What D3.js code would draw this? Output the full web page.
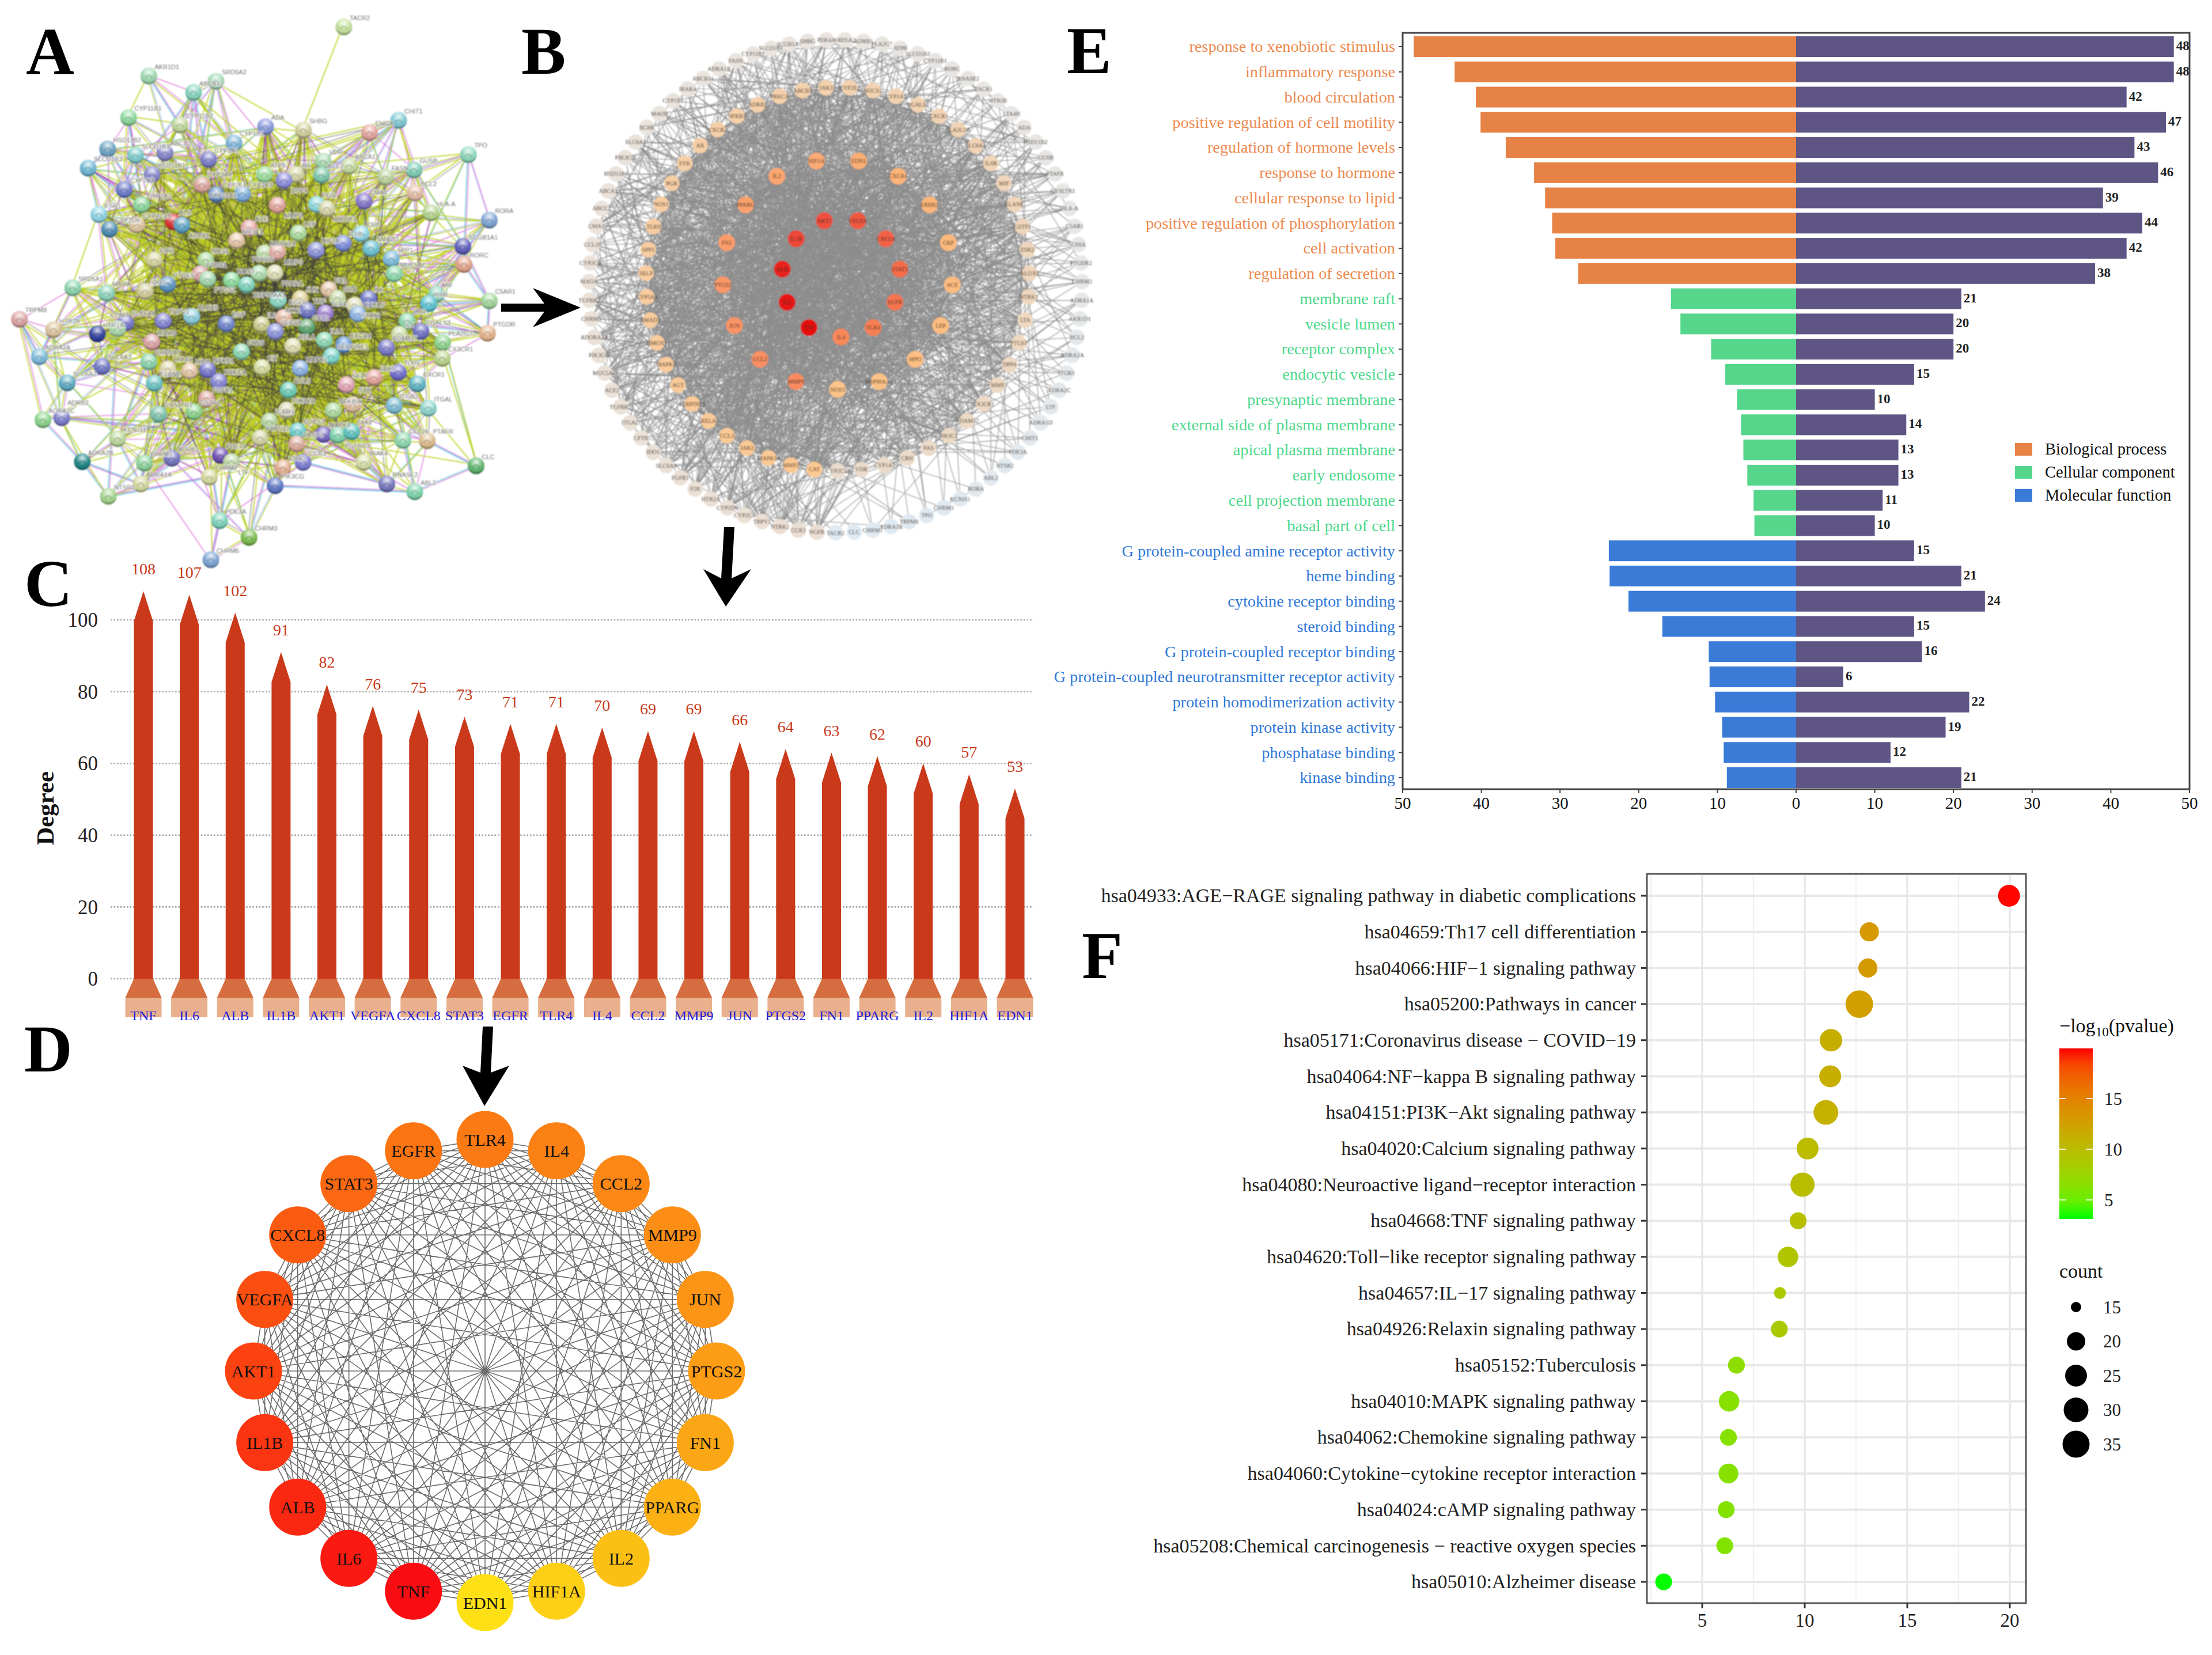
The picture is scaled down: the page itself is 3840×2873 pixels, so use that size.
<!DOCTYPE html>
<html><head><meta charset="utf-8">
<script src="https://cdnjs.cloudflare.com/ajax/libs/d3/7.8.5/d3.min.js"></script>
<style>html,body{margin:0;padding:0;background:#fff}svg{display:block}text{font-family:"Liberation Serif",serif}</style>
</head><body>
<svg id="c" width="3840" height="2873" viewBox="0 0 3840 2873"></svg>
<script>
// ---------- panel C / D data ----------
const hubGenes=["TNF","IL6","ALB","IL1B","AKT1","VEGFA","CXCL8","STAT3","EGFR","TLR4","IL4","CCL2","MMP9","JUN","PTGS2","FN1","PPARG","IL2","HIF1A","EDN1"];
const hubDegrees=[108,107,102,91,82,76,75,73,71,71,70,69,69,66,64,63,62,60,57,53];
const degreeTicks=[0,20,40,60,80,100];
// order of the circle in panel D, clockwise from the top
const circleOrder=["TLR4","IL4","CCL2","MMP9","JUN","PTGS2","FN1","PPARG","IL2","HIF1A","EDN1","TNF","IL6","ALB","IL1B","AKT1","VEGFA","CXCL8","STAT3","EGFR"];
// ---------- panel E data ----------
const goTerms=["response to xenobiotic stimulus","inflammatory response","blood circulation","positive regulation of cell motility","regulation of hormone levels","response to hormone","cellular response to lipid","positive regulation of phosphorylation","cell activation","regulation of secretion","membrane raft","vesicle lumen","receptor complex","endocytic vesicle","presynaptic membrane","external side of plasma membrane","apical plasma membrane","early endosome","cell projection membrane","basal part of cell","G protein-coupled amine receptor activity","heme binding","cytokine receptor binding","steroid binding","G protein-coupled receptor binding","G protein-coupled neurotransmitter receptor activity","protein homodimerization activity","protein kinase activity","phosphatase binding","kinase binding"];
const goEnrichment=[48.6,43.4,40.7,40.1,36.9,33.3,31.9,31.0,30.6,27.7,15.9,14.7,10.8,9.0,7.5,7.0,6.7,6.2,5.4,5.3,23.8,23.7,21.3,17.0,11.1,11.0,10.3,9.4,9.2,8.8];
const goCounts=[48,48,42,47,43,46,39,44,42,38,21,20,20,15,10,14,13,13,11,10,15,21,24,15,16,6,22,19,12,21];
const goAspects=["Biological process","Cellular component","Molecular function"];
const goAspectOfTerm=[0,0,0,0,0,0,0,0,0,0,1,1,1,1,1,1,1,1,1,1,2,2,2,2,2,2,2,2,2,2];
const goTicks=[-50,-40,-30,-20,-10,0,10,20,30,40,50];
// ---------- panel F data ----------
const pathways=["hsa04933:AGE\u2212RAGE signaling pathway in diabetic complications","hsa04659:Th17 cell differentiation","hsa04066:HIF\u22121 signaling pathway","hsa05200:Pathways in cancer","hsa05171:Coronavirus disease \u2212 COVID\u221219","hsa04064:NF\u2212kappa B signaling pathway","hsa04151:PI3K\u2212Akt signaling pathway","hsa04020:Calcium signaling pathway","hsa04080:Neuroactive ligand\u2212receptor interaction","hsa04668:TNF signaling pathway","hsa04620:Toll\u2212like receptor signaling pathway","hsa04657:IL\u221217 signaling pathway","hsa04926:Relaxin signaling pathway","hsa05152:Tuberculosis","hsa04010:MAPK signaling pathway","hsa04062:Chemokine signaling pathway","hsa04060:Cytokine\u2212cytokine receptor interaction","hsa04024:cAMP signaling pathway","hsa05208:Chemical carcinogenesis \u2212 reactive oxygen species","hsa05010:Alzheimer disease"];
const pathLogP=[19.96,13.15,13.08,12.66,11.28,11.24,11.03,10.14,9.89,9.68,9.18,8.79,8.76,6.67,6.31,6.28,6.28,6.17,6.1,3.12];
const pathCounts=[25,21,21,36,26,25,30,25,29,19,23,16,19,19,23,19,22,19,19,19];
const sizeLegend=[15,20,25,30,35];
const colorTicks=[5,10,15];
const pathTicks=[5,10,15,20];
// ---------- panel B data (concentric rings, each clockwise in degree order) ----------
const ringInner=["TNF","IL6","ALB","IL1B","AKT1","VEGFA","CXCL8","STAT3","EGFR","TLR4","IL4"];
const ringSecond=["MMP9","CCL2","JUN","PTGS2","FN1","PPARG","IL2","HIF1A","EDN1","CXCR4","ERBB2","CRP","ACE","LEP","MPO","HSP90AA1","NOS3"];
const ringThird=["CAT","MMP2","MAPK14","JAK2","CCL3","RELA","SERPINE1","AGT","MAPK3","HMOX1","SMAD3","CYP3A4","SELP","SPP1","TLR9","NOS1","PGR","SYK","AR","CXCR2","NFKB1","ADRB2","PRKCA","ABCB1","JAK3","CYP2E1","SOCS1","CYP1A1","LGALS3","CXCR1","PLA2G1B","SLC6A4","IL6R","MIF","ELANE","GSTP1","ESR2","ALOX5","NTRK1","LTA","PTGS1","DPP4","MME","CX3CR1","ADAM17","NR3C2","FAS","CRH","CYP1A2","VDR","CYP2C19"];
const ringOuter=["NGFR","CCR3","NTRK2","TRPV1","CYP2C9","CYP2D6","HTR2A","F2R","FGFR1","SLC6A3","IDO1","CFTR","ITGAL","TGFBR1","ACE2","MUC5AC","PIK3CG","ADORA2A","CHRM5","TGFBR2","MAOA","CYP2C8","CCL26","CMA1","ABCC2","ABCA1","HSD11B1","PIK3CD","SLC6A2","BCHE","MAOB","CYP1B1","IRAK4","ABCB11","ADRA1B","FASN","CYP11B2","SLCO1B1","SCGB1A1","SHBG","PDE4A","SRD5A2","ADRB1","PLA2G7","ATP8","SLCO1B3","CYP11B1","RORC","RNASE2","TACR1","HTR1B","LTA4H","ADA","HSD11B2","GUSB","PTAFR","CYSLTR1","HLA-A","C5AR1","CHIA","PTGDR2","CHRM2","ADRA1A","AKR1D1","BCL2","ADRA2A","ITGB3","ADRA2C","LTF","ADRA1D","CHIT1","PDE3A","NTSR2","ABL2","RORA","KCNJ11","CHRM3","TPO","TRPM8","ADRA2B","CHRM1","CLC","TACR2"];
// ---------- panel A data: STRING node label, layout position, bead hue ----------
const stringNames=["TACR2","AKR1D1","SRD5A2","ABCB11","CYP11B1","CYP11B2","ADA","SHBG","CHIT1","CHGA","CYP1B1","HSD11B2","SLCO1B1","ABCC2","VDR","ABCA1","TPO","CYP1A1","SLCO1B3","ATP8","AR","ACE2","FASN","GUSB","HSD11B1","CYP2C8","CYP2C9","CYP3A4","CYP2E1","DPP4","CYP1A2","BCL2","CMA1","MMP2","PGR","HMOX1","HLA-A","RORA","ESR1","CYP19A1","CYP2D6","CYP2C19","ALB","ABCB1","ACE","LEP","CRP","SMAD3","NR3C1","MAPK14","MMP9","HIF1A","IL1B","SPP1","SCGB1A1","RORC","MUC5AC","CRH","NOS1","PTGS1","PTGS2","NOS2","HSP90AA1","PPARG","PPARA","FN1","SRC","MIF","IL6R","C5AR1","IL6","AKT1","JUN","TNF","TLR4","STAT3","CXCL8","IL8R","LGALS3","PTGDR","SRD5A1","MAOA","IDO1","PTGES","ALOX5","EGF","EGFR","IL2","VEGFA","CCL2","IL1A","CXCR4","RELA","IL4","TRPM8","HTR2B","HTR1A","SLC6A4","COMT","TRPV1","MAOB","ADRA2A","SLC6A3","CHRNA7","CTSS","ADAM17","PLA2G7","CX3CR1","SLC6A2","LTA4H","MPO","NFKB1","SERPINE1","MAPK1","KIT","TLR9","CXCR1","JAK3","SELP","PRKCA","ELANE","CCL3","FGFR1","CYSLTR1","GSTP1","ADRA2C","ADRB2","PIK3CD","NFKBIA","SYK","ITGB2","ITGAL","ICAM1","KCNJ11","PTPN11","SOCS1","MAPK8","TGFBR1","JAK2","CCL26","PTAFR","CASP3","ADRA2B","CHRM1","ADRB1","PDE4A","LTF","CCR3","CD40","IRAK4","CLC","ADRA1A","CHRM2","PIK3CG","RNASE2","ABL2","NTSR2","PDE3A","CHRM3","CHRM5"];
const stringX=[936,405,588,527,350,490,723,826,1085,1006,637,293,369,449,880,950,1275,568,240,720,805,875,1050,1127,414,338,660,549,589,773,385,1130,991,755,862,890,1173,1332,269,550,298,373,472,495,678,812,983,1010,644,720,755,860,934,1065,1260,1263,1073,420,560,545,565,630,671,705,748,895,919,1188,1167,1332,1003,757,817,837,885,965,974,1108,1146,1327,198,290,395,456,522,616,772,712,749,835,883,936,797,1087,53,146,265,342,320,444,413,107,278,405,657,1052,1205,1204,183,457,516,565,902,817,713,1084,1136,1018,943,595,420,785,562,432,528,117,168,780,907,960,1073,1166,733,320,708,810,880,920,957,1097,1163,808,224,393,468,600,630,825,770,990,1296,383,570,749,1053,1129,295,598,678,574];
const stringY=[77,218,233,265,337,358,363,373,345,380,410,427,445,438,462,476,443,457,482,500,500,502,508,487,500,543,556,527,557,517,587,553,577,588,586,598,610,631,615,530,657,645,636,645,653,668,670,712,690,725,722,717,697,742,706,758,785,745,746,785,800,803,816,783,782,830,855,843,870,862,856,860,856,890,897,875,900,920,950,955,825,840,835,815,907,928,910,930,950,937,975,988,992,958,915,945,957,925,942,920,980,1022,1050,1037,1008,996,982,1027,1097,1057,1063,1060,1020,1056,1053,1067,1100,1082,1103,1093,1098,1118,1143,1187,1180,1203,1197,1175,1177,1160,1162,1170,1207,1257,1255,1235,1245,1247,1237,1262,1263,1272,1323,1327,1313,1305,1323,1325,1340,1325,1335,1387,1367,1392,1387,1409,1422,1492,1540,1604];
const stringHues=["#c8e6a0","#a0dcb4","#a0dcb4","#88d8c0","#90dca0","#c4dca0","#8c9ce0","#d4d4a0","#80ccd8","#e8a8a0","#80b8dc","#70a8c8","#80d0d0","#8888d0","#a8dcb0","#c8dca0","#90dcc0","#8080d0","#70bcd8","#a0e0a0","#d8d8a8","#80ccb0","#c0d8a0","#80d0b8","#8888d0","#7080d0","#80b0e0","#90dc90","#6088c0","#9090e0","#90dca0","#e8c0a8","#8878d0","#e8a8a0","#90dce0","#d8d8a8","#b8d890","#80a8d8","#90d8e8","#e0a8a0","#5090b8","#e0c8a0","#e03030","#60a8c8","#e8a8a8","#b0e0a0","#90d8e8","#70c8d8","#e8c8a8","#c0e0a8","#e8b0a8","#9098e0","#8090e0","#80c0e0","#6060c0","#e8a890","#90dcb0","#d8d8a0","#b0e0a0","#e0a8a8","#a8dcb0","#90e0a0","#80d8c0","#b0e0b0","#e0e0b8","#e8c8a8","#c8dca8","#90d8c0","#60c8d8","#a8dca0","#7078d0","#90dcc8","#e0d090","#7078c8","#a080d8","#e0e0b8","#90b8e8","#90dcb0","#7070c8","#e8b890","#90d8b0","#90d8c0","#d8d0a0","#6098c8","#90d0e0","#7088d0","#e8b8a0","#d0d090","#9098e0","#60a870","#90dcb8","#6098d8","#e0e0b0","#d0e0a8","#e0a8a8","#e0c8a0","#3040a0","#7878d0","#b0dcb0","#8888d8","#e0a8a8","#80c0e0","#7078c8","#90d8b0","#90dcb8","#8080d0","#90d890","#c0d890","#60b0c8","#e0d8b0","#e8c8a8","#7878d0","#80d8d0","#90b8e8","#d8e0a0","#7070d0","#60b8c8","#e8a8a0","#e8a8b8","#8888d8","#70c8c8","#70d0b8","#e0a8a0","#80c8b0","#90d890","#90d890","#8080d0","#d8d8b0","#b0dca0","#e0c0a0","#80c0d8","#90d8d0","#b8d8a0","#c0dca0","#d8d8a8","#70d0d0","#7868c8","#80d8b0","#60c8c0","#90dcb0","#e0c090","#e0b0a0","#208888","#90d8a0","#7878c8","#7050b8","#c0d8a8","#8080d8","#e8b090","#d8e0a8","#60b870","#d8dca0","#d8dca0","#6078c8","#7878c0","#80d8b0","#a8d890","#80d8c0","#80c050","#80a8d8"];

const svg=d3.select("#c");
const defs=svg.append("defs");
defs.append("filter").attr("id","soft").attr("x","-5%").attr("y","-5%").attr("width","110%").attr("height","110%")
  .append("feGaussianBlur").attr("stdDeviation",0.8);
const gloss=defs.append("radialGradient").attr("id","gloss").attr("cx","50%").attr("cy","28%").attr("r","62%");
gloss.append("stop").attr("offset","0%").attr("stop-color","#fff").attr("stop-opacity",.85);
gloss.append("stop").attr("offset","50%").attr("stop-color","#fff").attr("stop-opacity",.2);
gloss.append("stop").attr("offset","88%").attr("stop-color","#000").attr("stop-opacity",.03);
gloss.append("stop").attr("offset","100%").attr("stop-color","#000").attr("stop-opacity",.32);
const frac=v=>v-Math.floor(v);

// panel letters
[["A",45,128],["B",905,128],["C",42,1052],["D",42,1860],["E",1852,127],["F",1878,1698]].forEach(([t,x,y])=>
  svg.append("text").attr("x",x).attr("y",y).attr("font-size",116).attr("font-weight","bold").attr("fill","#000").text(t));

// ===== Panel A : STRING network =====
(function(){
  const sx=d3.scaleLinear([0,1568],[0,1000]), sy=d3.scaleLinear([0,1568],[0,950]);
  const g=svg.append("g").attr("filter","url(#soft)");
  const nodes=stringNames.map((name,i)=>({name,i,x:sx(stringX[i]),y:sy(stringY[i]),hue:stringHues[i]}));
  const cx=d3.mean(nodes,d=>d.x), cy=d3.mean(nodes,d=>d.y), R=440;
  nodes.forEach(n=>{n.c=Math.max(0,1-Math.hypot(n.x-cx,n.y-cy)/R);});
  const tacr=stringNames.indexOf("TACR2");
  // The topology of this hairball cannot be read from the picture: links join near neighbours,
  // and central beads link to other central beads, by a fixed rule.
  const cum=d3.cumsum(nodes.map((n,i)=>i===tacr?0:Math.pow(n.c,1.6)+0.004));
  const tot=cum[cum.length-1];
  const links=[]; const seen=new Set();
  function add(a,b){ if(a===b) return; const key=a<b?a+"-"+b:b+"-"+a; if(seen.has(key)) return; seen.add(key); links.push([a,b]); }
  nodes.forEach(n=>{
    if(n.i===tacr) return;
    const near=nodes.filter(m=>m!==n&&m.i!==tacr).sort((p,q)=>Math.hypot(p.x-n.x,p.y-n.y)-Math.hypot(q.x-n.x,q.y-n.y));
    const k=n.c<0.1?3:5;
    near.slice(0,k).forEach(m=>add(n.i,m.i));
    near.slice(8,n.c<0.25?11:8).forEach((m,j)=>{ if((n.i+j)%2===0) add(n.i,m.i); });
    const long=Math.round(Math.pow(n.c,1.2)*42)+(n.c<0.12?1:0);
    for(let j=1;j<=long;j++){
      const u=frac((n.i+1)*0.7548776+j*0.5698403+(n.i+1)*j*0.6180339);
      add(n.i,d3.bisectLeft(cum,u*tot));
    }
  });
  add(tacr,stringNames.indexOf("SHBG"));
  // strand colours of the STRING evidence channels, bottom to top
  const strands=[["#c6d6ff",0,2.4],["#35c0d8",1,1.4],["#d65cd0",-1,1.3],["#bccf14",2,1.8],["#3d3d3d",-2,0.9]];
  const VIO=0,CYAN=1,MAG=2,OLIVE=3,DARK=4;
  const byColor=strands.map(()=>d3.path());
  links.forEach(([a,b],li)=>{
    const A=nodes[a],B=nodes[b];
    const L=Math.hypot(B.x-A.x,B.y-A.y)||1, nx=-(B.y-A.y)/L, ny=(B.x-A.x)/L;
    const central=Math.min(A.c,B.c)>0.22;
    const h=(li*7)%10;
    const use=(a===tacr||b===tacr)?[OLIVE]:central? [[OLIVE],[OLIVE,MAG],[OLIVE,DARK],[OLIVE],[MAG,OLIVE],[OLIVE,CYAN],[OLIVE],[DARK,OLIVE],[MAG,DARK],[OLIVE]][h]
      : [[OLIVE],[MAG,OLIVE],[VIO,MAG],[CYAN,OLIVE],[VIO,CYAN,MAG],[OLIVE,DARK],[OLIVE],[MAG],[VIO,OLIVE],[CYAN,MAG]][h];
    use.forEach(s=>{
      const off=strands[s][1]*1.1;
      byColor[s].moveTo(A.x+nx*off,A.y+ny*off); byColor[s].lineTo(B.x+nx*off,B.y+ny*off);
    });
  });
  g.selectAll("path.edge").data(strands).join("path").attr("class","edge")
    .attr("d",(d,i)=>byColor[i].toString()).attr("fill","none").attr("stroke",d=>d[0]).attr("stroke-width",d=>d[2]).attr("stroke-opacity",.92);
  const ng=g.selectAll("g.n").data(nodes).join("g").attr("class","n").attr("transform",d=>`translate(${d.x},${d.y})`);
  ng.append("circle").attr("r",14.5).attr("fill",d=>d.hue);
  ng.append("circle").attr("r",14.5).attr("fill","url(#gloss)");
  ng.append("path").attr("d",(d)=>{const p=d3.path();p.moveTo(-6,3);p.quadraticCurveTo(0,-5-(d.i%4),6,4);return p.toString();})
    .attr("fill","none").attr("stroke",d=>d3.color(d.hue).darker(1.2)).attr("stroke-width",2).attr("opacity",.6);
  // labels sit above-right of the bead; a label that would hit another is nudged to a free slot
  const placed=[], W=c=>c*6.6+2, H=12;
  const slots=[[10,-12],[10,-22],[-12,-20],[12,22],[-14,24],[22,2],[-34,4],[24,-32],[-36,-32],[30,30],[-40,32]];
  nodes.forEach(n=>{
    const w=W(n.name.length);
    let s=slots.find(([dx,dy])=>{
      const bx=n.x+dx,by=n.y+dy-H+2;
      return !placed.some(p=>bx<p.x+p.w&&bx+w>p.x&&by<p.y+H&&by+H>p.y);
    })||slots[0];
    placed.push({x:n.x+s[0],y:n.y+s[1]-H+2,w}); n.lx=s[0]; n.ly=s[1];
  });
  g.selectAll("text.lab").data(nodes).join("text").attr("class","lab").attr("x",d=>d.x+d.lx).attr("y",d=>d.y+d.ly).attr("font-size",11).attr("fill","#444")
    .style("font-family",'"Liberation Sans",sans-serif').attr("paint-order","stroke").attr("stroke","#fff").attr("stroke-opacity",.75).attr("stroke-width",2.5).text(d=>d.name);
})();

// ===== Panel B : concentric degree network =====
(function(){
  const g=svg.append("g").attr("filter","url(#soft)");
  const rings=[
    {names:ringInner,r:103,cx:1460,cy:482},
    {names:ringSecond,r:200,cx:1454,cy:476},
    {names:ringThird,r:333,cx:1454.5,cy:484.5},
    {names:ringOuter,r:428,cx:1450.5,cy:497}];
  const rankColor=d3.scaleLinear([0,2,3,10,11,20,27,28,78,79,130,161],
    ["#e6100f","#e8201e","#ee4638","#f98858","#f98a60","#fcb478","#fdc488","#fcc892","#eadccc","#ebdfd3","#e8e6e4","#dfeaf3"]);
  const restDegree=d3.scaleLinear([11,27,28,78,79,130,161],[60,46,42,14,13,6,1]);
  const nodes=[];
  rings.forEach(ring=>{
    const step=2*Math.PI/ring.names.length;
    ring.names.forEach((name,i)=>{
      const [dx,dy]=d3.pointRadial(Math.PI+(i+1)*step,ring.r);
      const rank=nodes.length, hi=hubGenes.indexOf(name);
      nodes.push({name,rank,x:ring.cx+dx,y:ring.cy+dy,deg:hi>=0?hubDegrees[hi]:restDegree(rank),fill:rankColor(rank)});
    });
  });
  // Which pair is linked is not readable; only each node's degree steers a fixed linking rule.
  const cum=d3.cumsum(nodes.map(n=>n.deg)); const tot=cum[cum.length-1];
  const edges=d3.path();
  nodes.forEach(n=>{
    const many=Math.ceil(n.deg*0.72);
    for(let k=1;k<=many;k++){
      const u=frac((n.rank+1)*0.7548776+k*0.5698403+(n.rank+1)*k*0.6180339);
      const m=nodes[d3.bisectLeft(cum,u*tot)];
      if(m&&m!==n){edges.moveTo(n.x,n.y);edges.lineTo(m.x,m.y);}
    }
  });
  g.append("path").attr("d",edges.toString()).attr("fill","none").attr("stroke","#8c8c8c").attr("stroke-width",1.05);
  const ng=g.selectAll("g.n").data(nodes).join("g").attr("class","n").attr("transform",d=>`translate(${d.x},${d.y})`);
  ng.append("circle").attr("r",d=>d.rank<28?14.5:13.5).attr("fill",d=>d.fill);
  ng.append("text").attr("text-anchor","middle").attr("dy",".35em").attr("font-size",10).attr("fill","#3a2a20").text(d=>d.name);
})();

// ===== Arrows between panels =====
const arrows=["M870,527L945,527L925,500L1008,534L925,568L945,541L870,541Z",
 "M1257,915L1275,915L1270,1004L1304,988L1260,1053L1221,988L1252,1004Z",
 "M838,1782L856,1782L852,1862L884,1850L841,1920L803,1850L834,1862Z"];
svg.selectAll("path.arrow").data(arrows).join("path").attr("class","arrow").attr("d",d=>d).attr("fill","#000");

// ===== Panel C : degree arrows =====
(function(){
  const x=d3.scalePoint(hubGenes,[249,1762]);
  const y=d3.scaleLinear([0,100],[1699,1076]);
  const g=svg.append("g");
  g.selectAll("line.grid").data(degreeTicks).join("line").attr("class","grid")
    .attr("x1",192).attr("x2",1794).attr("y1",d=>y(d)).attr("y2",d=>y(d))
    .attr("stroke","#a6a6a6").attr("stroke-width",2.6).attr("stroke-dasharray","2.6 3");
  g.selectAll("text.yt").data(degreeTicks).join("text").attr("class","yt")
    .attr("x",170).attr("y",d=>y(d)).attr("dy",".35em").attr("text-anchor","end").attr("font-size",35).attr("fill","#222").text(d=>d);
  const bw=33, head=52, fw=63, trap=33, foot=67;
  const bars=g.selectAll("g.b").data(hubGenes.map((n,i)=>({n,v:hubDegrees[i]}))).join("g").attr("class","b");
  bars.append("rect").attr("x",d=>x(d.n)-fw/2).attr("y",y(0)+trap).attr("width",fw).attr("height",foot-trap).attr("fill","#e8b08d");
  bars.append("path").attr("d",d=>{const c=x(d.n),p=d3.path(),t=y(0);
      p.moveTo(c-bw/2,t);p.lineTo(c+bw/2,t);p.lineTo(c+fw/2,t+trap);p.lineTo(c-fw/2,t+trap);p.closePath();return p.toString();}).attr("fill","#d66d40");
  bars.append("path").attr("d",d=>{const c=x(d.n),p=d3.path(),t=y(d.v),b=y(0);
      p.moveTo(c,t);p.lineTo(c+bw/2,t+head);p.lineTo(c+bw/2,b);p.lineTo(c-bw/2,b);p.lineTo(c-bw/2,t+head);p.closePath();return p.toString();}).attr("fill","#c9391a");
  bars.append("text").attr("x",d=>x(d.n)).attr("y",d=>y(d.v)-29).attr("text-anchor","middle").attr("font-size",28).attr("fill","#c9391a").text(d=>d.v);
  bars.append("text").attr("x",d=>x(d.n)).attr("y",1771).attr("text-anchor","middle").attr("font-size",24).attr("fill","#1c1cdc").text(d=>d.n);
  svg.append("text").attr("transform","translate(93,1403) rotate(-90)").attr("text-anchor","middle").attr("font-size",43).attr("font-weight","bold").attr("fill","#111").text("Degree");
})();

// ===== Panel D : complete hub graph =====
(function(){
  const g=svg.append("g");
  const color=d3.scaleLinear([0,4,8,13,16,19],["#fa0d12","#fb4210","#fb7412","#fc9416","#fbb014","#fee016"]);
  const step=2*Math.PI/circleOrder.length;
  const nodes=circleOrder.map((name,i)=>{const [dx,dy]=d3.pointRadial(i*step,402);return {name,x:842+dx,y:2380+dy,fill:color(hubGenes.indexOf(name))};});
  const edges=d3.path();
  nodes.forEach((a,i)=>nodes.slice(i+1).forEach(b=>{edges.moveTo(a.x,a.y);edges.lineTo(b.x,b.y);}));
  g.append("path").attr("d",edges.toString()).attr("fill","none").attr("stroke","#333").attr("stroke-width",1.6).attr("stroke-opacity",.72);
  const ng=g.selectAll("g.n").data(nodes).join("g").attr("transform",d=>`translate(${d.x},${d.y})`);
  ng.append("circle").attr("r",49.5).attr("fill",d=>d.fill);
  ng.append("text").attr("text-anchor","middle").attr("dy",".35em").attr("font-size",30).attr("fill","#111").text(d=>d.name);
})();

// ===== Panel E : diverging GO bars =====
(function(){
  const x=d3.scaleLinear([-50,50],[2435,3801]);
  const y=d3.scalePoint(d3.range(goTerms.length),[81,1350]);
  const palette=["#e68245","#55d68b","#3a7bd8"], textPal=["#ec8a50","#4fd88c","#2f78d8"];
  const g=svg.append("g"), bh=36;
  const rows=g.selectAll("g.r").data(goTerms.map((t,i)=>({t,i,e:goEnrichment[i],n:goCounts[i],a:goAspectOfTerm[i]}))).join("g").attr("class","r");
  rows.append("rect").attr("x",d=>x(-d.e)).attr("y",d=>y(d.i)-bh/2).attr("width",d=>x(0)-x(-d.e)).attr("height",bh).attr("fill",d=>palette[d.a]);
  rows.append("rect").attr("x",x(0)).attr("y",d=>y(d.i)-bh/2).attr("width",d=>x(d.n)-x(0)).attr("height",bh).attr("fill","#5f5585");
  rows.append("text").attr("x",d=>x(d.n)+4).attr("y",d=>y(d.i)-2).attr("dy",".35em").attr("font-size",23).attr("font-weight","bold").attr("fill","#222").text(d=>d.n);
  rows.append("text").attr("x",2422).attr("y",d=>y(d.i)).attr("dy",".33em").attr("text-anchor","end").attr("font-size",28.3).attr("fill",d=>textPal[d.a]).text(d=>d.t);
  rows.append("line").attr("x1",2428).attr("x2",2435).attr("y1",d=>y(d.i)).attr("y2",d=>y(d.i)).attr("stroke","#444").attr("stroke-width",2);
  g.append("rect").attr("x",2435).attr("y",57).attr("width",1366).attr("height",1313).attr("fill","none").attr("stroke","#444").attr("stroke-width",3);
  g.selectAll("line.xt").data(goTicks).join("line").attr("class","xt").attr("x1",d=>x(d)).attr("x2",d=>x(d)).attr("y1",1370).attr("y2",1377).attr("stroke","#444").attr("stroke-width",2);
  g.selectAll("text.xl").data(goTicks).join("text").attr("class","xl").attr("x",d=>x(d)).attr("y",1394).attr("dy",".35em").attr("text-anchor","middle").attr("font-size",29).attr("fill","#111").text(d=>Math.abs(d));
  const leg=g.selectAll("g.l").data(goAspects).join("g").attr("class","l").attr("transform",(d,i)=>`translate(3498,${780+i*40})`);
  leg.append("rect").attr("x",0).attr("y",-11).attr("width",30).attr("height",22).attr("fill",(d,i)=>palette[i]);
  leg.append("text").attr("x",52).attr("dy",".33em").attr("font-size",28.5).attr("fill","#111").text(d=>d);
})();

// ===== Panel F : KEGG dot plot =====
(function(){
  const x=d3.scaleLinear([5,20],[2955,3489]);
  const y=d3.scalePoint(d3.range(pathways.length),[1555,2746]);
  const color=d3.scaleLinear([3.1,20],["#00ff00","#ff0000"]).interpolate(d3.interpolateLab);
  const rad=d3.scaleLinear(sizeLegend,[9,16,19,21.5,23.5]);
  const L=2859,Rr=3517,T=1517,B=2783;
  const g=svg.append("g");
  g.selectAll("line.mn").data([2.5,7.5,12.5,17.5].filter(v=>x(v)>L)).join("line").attr("class","mn").attr("x1",d=>x(d)).attr("x2",d=>x(d)).attr("y1",T).attr("y2",B).attr("stroke","#f0f0f0").attr("stroke-width",2);
  g.selectAll("line.mj").data(pathTicks).join("line").attr("class","mj").attr("x1",d=>x(d)).attr("x2",d=>x(d)).attr("y1",T).attr("y2",B).attr("stroke","#e8e8e8").attr("stroke-width",3.5);
  g.selectAll("line.h").data(pathways).join("line").attr("class","h").attr("x1",L).attr("x2",Rr).attr("y1",(d,i)=>y(i)).attr("y2",(d,i)=>y(i)).attr("stroke","#e8e8e8").attr("stroke-width",4);
  g.selectAll("line.yt").data(pathways).join("line").attr("class","yt").attr("x1",L-10).attr("x2",L).attr("y1",(d,i)=>y(i)).attr("y2",(d,i)=>y(i)).attr("stroke","#333").attr("stroke-width",3);
  g.selectAll("text.yl").data(pathways).join("text").attr("class","yl").attr("x",2840).attr("y",(d,i)=>y(i)).attr("dy",".33em").attr("text-anchor","end").attr("font-size",34).attr("fill","#222").text(d=>d);
  g.selectAll("circle.p").data(pathways).join("circle").attr("class","p").attr("cx",(d,i)=>x(pathLogP[i])).attr("cy",(d,i)=>y(i)).attr("r",(d,i)=>rad(pathCounts[i])).attr("fill",(d,i)=>color(pathLogP[i]));
  g.append("rect").attr("x",L).attr("y",T).attr("width",Rr-L).attr("height",B-T).attr("fill","none").attr("stroke","#555").attr("stroke-width",3);
  g.selectAll("line.xt").data(pathTicks).join("line").attr("class","xt").attr("x1",d=>x(d)).attr("x2",d=>x(d)).attr("y1",B).attr("y2",B+9).attr("stroke","#333").attr("stroke-width",3);
  g.selectAll("text.xl").data(pathTicks).join("text").attr("class","xl").attr("x",d=>x(d)).attr("y",2812).attr("dy",".35em").attr("text-anchor","middle").attr("font-size",33).attr("fill","#222").text(d=>d);
  // colour legend
  const grad=defs.append("linearGradient").attr("id","lp").attr("x1",0).attr("y1",1).attr("x2",0).attr("y2",0);
  d3.range(0,1.001,.1).forEach(t=>grad.append("stop").attr("offset",t).attr("stop-color",color(3.1+t*16.9)));
  const cy=d3.scaleLinear([5,15],[2083,1907]);
  g.append("rect").attr("x",3575).attr("y",1820).attr("width",58).attr("height",296).attr("fill","url(#lp)");
  colorTicks.forEach(v=>{
    [[3575,3587],[3621,3633]].forEach(([a,b])=>g.append("line").attr("x1",a).attr("x2",b).attr("y1",cy(v)).attr("y2",cy(v)).attr("stroke","#fff").attr("stroke-opacity",.8).attr("stroke-width",2));
    g.append("text").attr("x",3653).attr("y",cy(v)).attr("dy",".35em").attr("font-size",31).attr("fill","#222").text(v);
  });
  const title=g.append("text").attr("x",3575).attr("y",1792).attr("font-size",34).attr("fill","#111");
  title.append("tspan").text("\u2212log");
  title.append("tspan").attr("font-size",23).attr("dy",7).text("10");
  title.append("tspan").attr("dy",-7).text("(pvalue)");
  g.append("text").attr("x",3575).attr("y",2218).attr("font-size",34).attr("fill","#111").text("count");
  const sy=d3.scalePoint(sizeLegend,[2269,2507]);
  g.selectAll("circle.s").data(sizeLegend).join("circle").attr("class","s").attr("cx",3604).attr("cy",d=>sy(d)).attr("r",d=>rad(d)).attr("fill","#000");
  g.selectAll("text.s").data(sizeLegend).join("text").attr("class","s").attr("x",3651).attr("y",d=>sy(d)).attr("dy",".35em").attr("font-size",31).attr("fill","#222").text(d=>d);
})();
</script>
</body></html>
